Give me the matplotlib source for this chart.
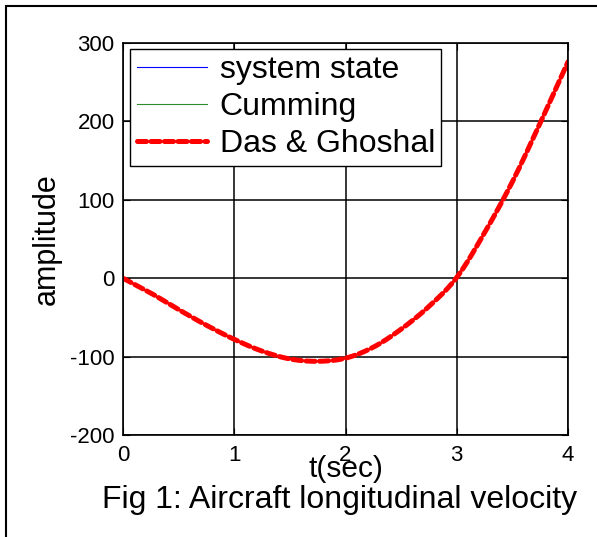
import matplotlib
matplotlib.use("Agg")
from matplotlib import pyplot as plt
from matplotlib.patches import Rectangle
import numpy as np

plt.rcParams['font.family'] = ['Liberation Sans', 'DejaVu Sans']
plt.rcParams['axes.unicode_minus'] = False

# time samples (sec) and amplitude
t = [0.0, 0.25, 0.5, 0.75, 1.0, 1.25, 1.5, 1.75, 2.0, 2.25, 2.5, 2.75, 3.0, 3.25, 3.5, 3.75, 4.0]
system_state = [0, -19, -40, -60, -78, -93, -103, -106, -102, -88, -65, -36, 1, 58, 123, 198, 276]
cumming = [0, -19, -40, -60, -78, -93, -103, -106, -102, -88, -65, -36, 1, 58, 123, 198, 276]
das_ghoshal = [0, -19, -40, -60, -78, -93, -103, -106, -102, -88, -65, -36, 1, 58, 123, 198, 276]

x_ticks = [0, 1, 2, 3, 4]
y_ticks = [-200, -100, 0, 100, 200, 300]


def smooth(xs, ys, n=300):
    # Catmull-Rom curve through the read points, only to draw a smooth line
    xs = np.asarray(xs, float)
    ys = np.asarray(ys, float)
    xx = np.linspace(xs[0], xs[-1], n)
    out = []
    for x in xx:
        i = min(int((x - xs[0]) / (xs[1] - xs[0])), len(xs) - 2)
        u = (x - xs[i]) / (xs[i + 1] - xs[i])
        p0 = ys[max(i - 1, 0)] if i > 0 else 2 * ys[0] - ys[1]
        p1 = ys[i]
        p2 = ys[i + 1]
        p3 = ys[i + 2] if i + 2 < len(ys) else 2 * ys[-1] - ys[-2]
        out.append(0.5 * ((2 * p1) + (-p0 + p2) * u + (2 * p0 - 5 * p1 + 4 * p2 - p3) * u ** 2
                          + (-p0 + 3 * p1 - 3 * p2 + p3) * u ** 3))
    return xx, np.array(out)


fig = plt.figure(figsize=(5.97, 5.37), dpi=100)
ax = fig.add_axes([123 / 597, 1 - 435 / 537, 445 / 597, 392 / 537])

xs, ys = smooth(t, system_state)
ax.plot(xs, ys, color='blue', lw=0.8, label='system state')
xs, ys = smooth(t, cumming)
ax.plot(xs, ys, color='#2e8b2e', lw=0.8, label='Cumming')
xs, ys = smooth(t, das_ghoshal)
ax.plot(xs, ys, color='red', lw=3.6, dashes=(1.8, 0.9), dash_capstyle='round',
        label='Das & Ghoshal')

ax.set_xlim(0, 4)
ax.set_ylim(-200, 300)
ax.set_xticks(x_ticks)
ax.set_yticks(y_ticks)
ax.grid(True, color='black', lw=1.1, ls='-')
ax.set_axisbelow(True)
ax.tick_params(direction='in', length=5, labelsize=16, top=True, right=True)
ax.tick_params(axis='x', pad=7)
ax.tick_params(axis='y', pad=6)
for s in ax.spines.values():
    s.set_linewidth(1.2)

ax.set_xlabel('t(sec)', fontsize=21.5, labelpad=-8)
ax.set_ylabel('amplitude', fontsize=22, labelpad=6)

leg = ax.legend(loc='upper left', bbox_to_anchor=(0.016, 0.985), fontsize=23,
                handlelength=2.2, fancybox=False, framealpha=1, edgecolor='black',
                borderpad=0.2, labelspacing=0.22, handletextpad=0.4, borderaxespad=0)
leg.get_frame().set_linewidth(1.0)

fig.text(340 / 597, 1 - 500 / 537, 'Fig 1: Aircraft longitudinal velocity',
         fontsize=23, ha='center', va='center')

fig.patches.append(Rectangle((6 / 597, -0.05), 1.1, 1 - 6 / 537 + 0.05,
                             transform=fig.transFigure, fill=False,
                             edgecolor='black', lw=1.5))

fig.savefig('out.png', dpi=100)
